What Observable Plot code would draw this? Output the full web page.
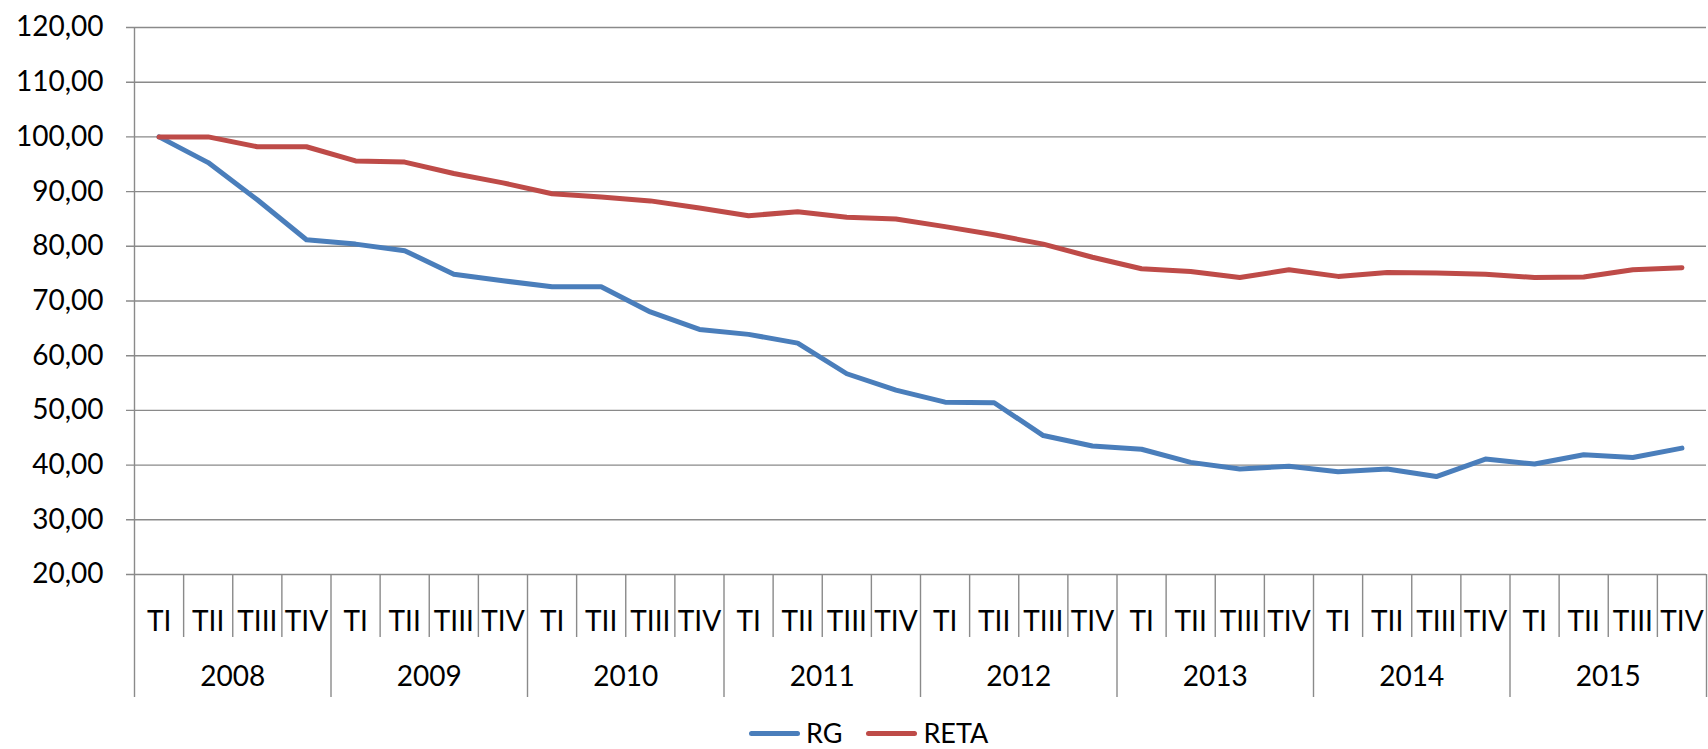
<!DOCTYPE html>
<html>
<head>
<meta charset="utf-8">
<script src="https://cdn.jsdelivr.net/npm/d3@7"></script>
<script src="https://cdn.jsdelivr.net/npm/@observablehq/plot@0.6"></script>
<style>
  html, body { margin: 0; padding: 0; background: #fff; overflow: hidden; }
  body { font-family: Lato, "Open Sans", sans-serif; }
  #chart { width: 1708px; height: 718px; }
  #legend { display: flex; align-items: center; height: 30px; padding-left: 749px; font-size: 27px; line-height: 28px; color: #000; }
  .item { display: flex; align-items: center; margin-right: 24px; }
  .sw { width: 51px; height: 5px; border-radius: 3px; margin-right: 6px; }
</style>
</head>
<body>
<div id="chart"></div>
<div id="legend"></div>
<script>
const years = ["2008", "2009", "2010", "2011", "2012", "2013", "2014", "2015"];
const quarters = ["TI", "TII", "TIII", "TIV"];
const rg = [100, 95.3, 88.5, 81.2, 80.4, 79.2, 74.9, 73.7, 72.6, 72.6, 68.0, 64.8, 63.9, 62.3, 56.7, 53.7,
            51.5, 51.4, 45.4, 43.5, 42.9, 40.5, 39.3, 39.8, 38.8, 39.3, 37.9, 41.1, 40.2, 41.9, 41.4, 43.1];
const reta = [100, 100, 98.2, 98.2, 95.6, 95.4, 93.3, 91.6, 89.6, 89.0, 88.3, 87.0, 85.6, 86.3, 85.3, 85.0,
              83.6, 82.1, 80.4, 78.0, 75.9, 75.4, 74.3, 75.7, 74.5, 75.2, 75.1, 74.9, 74.3, 74.4, 75.7, 76.1];
const yTicks = [20, 30, 40, 50, 60, 70, 80, 90, 100, 110, 120];
const seriesNames = ["RG", "RETA"];
const seriesColors = ["#4A7EBB", "#BE4B48"];

// build table
const periods = [];
years.forEach((y, yi) => quarters.forEach((q, qi) => periods.push({idx: yi * 4 + qi, year: y, q})));
const rows = [];
[rg, reta].forEach((vals, s) => vals.forEach((v, i) => rows.push({series: seriesNames[s], pos: i + 0.5, value: v})));
const nCat = periods.length;
const boundaries = d3.range(nCat + 1).map(b => ({b, year: b % 4 === 0}));
const yearCenters = years.map((y, yi) => ({year: y, pos: yi * 4 + 2}));
const yMin = yTicks[0];

const fmt = d => d3.format(".2f")(d).replace(".", ",");
const grid = "#8a8a8a";

const chart = Plot.plot({
  width: 1708,
  height: 718,
  marginLeft: 134,
  marginRight: 2,
  marginTop: 27,
  marginBottom: 144,
  style: {fontFamily: "Lato, 'Open Sans', sans-serif", fontSize: "28px", color: "#000", background: "#fff"},
  x: {domain: [0, nCat], axis: null},
  y: {domain: [yTicks[0], yTicks[yTicks.length - 1]], axis: null},
  color: {domain: seriesNames, range: seriesColors},
  marks: [
    Plot.ruleY(yTicks, {stroke: grid, strokeWidth: 1.4, insetLeft: -8}),
    Plot.ruleX([0], {stroke: grid, strokeWidth: 1.4}),
    Plot.ruleX(boundaries, {x: "b", y1: () => yMin, y2: () => yMin, stroke: grid, strokeWidth: 1.4,
      insetBottom: -63, filter: d => !d.year}),
    Plot.ruleX(boundaries, {x: "b", y1: () => yMin, y2: () => yMin, stroke: grid, strokeWidth: 1.4,
      insetBottom: -123, filter: d => d.year}),
    Plot.text(yTicks, {y: d => d, text: fmt, frameAnchor: "left", textAnchor: "end", dx: -31, fill: "#000"}),
    Plot.text(periods, {x: d => d.idx + 0.5, y: () => yMin, text: "q", dy: 48, fill: "#000"}),
    Plot.text(yearCenters, {x: "pos", y: () => yMin, text: "year", dy: 103, fill: "#000"}),
    Plot.line(rows, {x: "pos", y: "value", z: "series", stroke: "series", strokeWidth: 5,
      strokeLinecap: "round", strokeLinejoin: "round"})
  ]
});
document.getElementById("chart").appendChild(chart);

const legend = document.getElementById("legend");
seriesNames.forEach((n, i) => {
  const it = document.createElement("div");
  it.className = "item";
  const sw = document.createElement("div");
  sw.className = "sw";
  sw.style.background = seriesColors[i];
  const t = document.createElement("span");
  t.textContent = n;
  it.appendChild(sw); it.appendChild(t);
  legend.appendChild(it);
});
</script>
</body>
</html>
